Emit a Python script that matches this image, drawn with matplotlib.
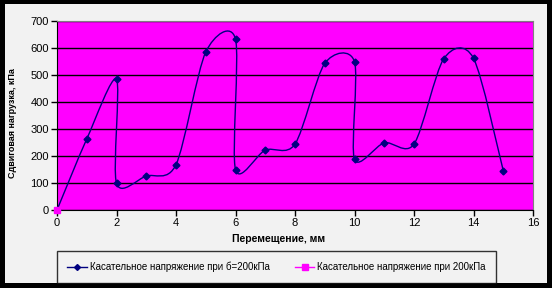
import numpy as np
import matplotlib.pyplot as plt
from matplotlib.path import Path
from matplotlib.patches import PathPatch, Rectangle
from matplotlib.lines import Line2D

plt.rcParams['font.family'] = ['Liberation Sans', 'DejaVu Sans']

# displacement, mm / shear stress, kPa
disp = [0, 1, 2, 2, 3, 4, 5, 6, 6, 7, 8, 9, 10, 10, 11, 12, 13, 14, 15]
stress = [0, 263, 484, 99, 126, 168, 585, 633, 150, 222, 244, 543, 549, 188, 249, 244, 560, 562, 146]

disp2 = [0]
stress2 = [0]

x_ticks = [0, 2, 4, 6, 8, 10, 12, 14, 16]
y_ticks = [0, 100, 200, 300, 400, 500, 600, 700]

label1 = 'Касательное напряжение при б=200кПа'
label2 = 'Касательное напряжение при 200кПа'


def smooth_path(xs, ys, k=1 / 7):
    # excel-like smoothed line: cubic bezier through every point
    pts = np.column_stack([xs, ys]).astype(float)
    n = len(pts)
    verts = [pts[0]]
    codes = [Path.MOVETO]
    for i in range(n - 1):
        p0 = pts[i - 1] if i > 0 else pts[i]
        p1, p2 = pts[i], pts[i + 1]
        p3 = pts[i + 2] if i + 2 < n else pts[i + 1]
        verts += [p1 + (p2 - p0) * k, p2 - (p3 - p1) * k, p2]
        codes += [Path.CURVE4] * 3
    return Path(verts, codes)


fig = plt.figure(figsize=(5.52, 2.88), dpi=100, facecolor='black')
fig.patches.append(Rectangle((5 / 552, 5 / 288), 542 / 552, 279 / 288,
                             transform=fig.transFigure, facecolor='#f2f2f2',
                             edgecolor='none', zorder=-10))

ax = fig.add_axes([57 / 552, 78 / 288, 476 / 552, 189 / 288])
ax.set_facecolor('#ff00ff')

ax.add_patch(PathPatch(smooth_path(disp, stress), facecolor='none',
                       edgecolor='#000080', linewidth=1, zorder=3))
ax.plot(disp, stress, linestyle='none', marker='D', markersize=3.5,
        color='#000080', zorder=4)
ax.plot(disp2, stress2, linestyle='none', marker='s', markersize=4,
        color='#ff00ff', zorder=5, clip_on=False)

ax.set_xlim(0, 16)
ax.set_ylim(0, 700)
ax.set_xticks(x_ticks)
ax.set_yticks(y_ticks)
ax.yaxis.grid(True, color='black', linewidth=1)
ax.set_axisbelow(True)
ax.tick_params(labelsize=8, length=4, width=1, pad=2, colors='black')

for s in ['top', 'right']:
    ax.spines[s].set_color('#808080')
for s in ['left', 'bottom']:
    ax.spines[s].set_color('black')

ax.set_xlabel('Перемещение, мм', fontsize=7.5, fontweight='bold')
ax.xaxis.set_label_coords((279 - 57) / 476, -(234 - 210) / 189)
ax.set_ylabel('Сдвиговая нагрузка, кПа', fontsize=6.5, fontweight='bold')
ax.yaxis.set_label_coords(-(57 - 17) / 476, 0.458)

handles = [
    Line2D([], [], color='#000080', linewidth=1, marker='D', markersize=3),
    Line2D([], [], color='#ff00ff', linewidth=1, marker='s', markersize=4),
]
leg = fig.legend(handles, [label1, label2], ncol=2, fontsize=7,
                 loc='center', bbox_to_anchor=(276.5 / 552, 1 - 267 / 288),
                 frameon=True, fancybox=False, handlelength=2.0,
                 handletextpad=0.3, columnspacing=2.6, borderpad=1.1,
                 borderaxespad=0)
leg.get_frame().set_edgecolor('black')
leg.get_frame().set_facecolor('#f2f2f2')
leg.get_frame().set_linewidth(1)

fig.savefig('out.png', dpi=100, facecolor=fig.get_facecolor())
